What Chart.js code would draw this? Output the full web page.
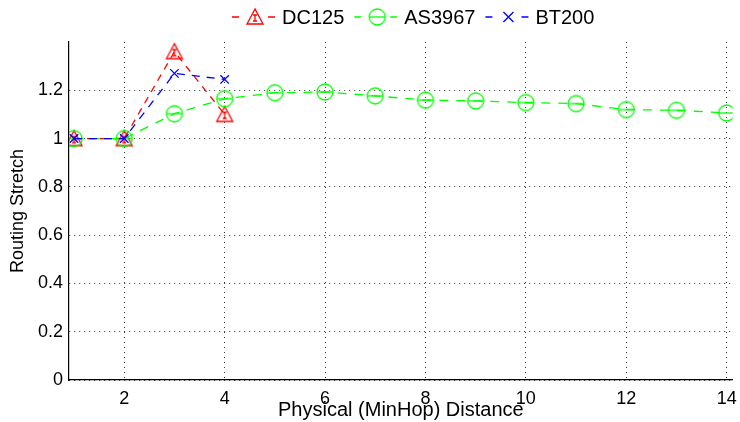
<!DOCTYPE html>
<html>
<head>
<meta charset="utf-8">
<script src="https://cdn.jsdelivr.net/npm/chart.js@4"></script>
<style>
  html, body { margin: 0; padding: 0; background: #fff; }
  #wrap { width: 740px; height: 422px; position: relative; }
</style>
</head>
<body>
<div id="wrap"><canvas id="stretch-chart"></canvas></div>
<script>
// data
const distances = [1, 2, 3, 4, 5, 6, 7, 8, 9, 10, 11, 12, 13, 14];
const dc125 = [1.0, 1.0, 1.36, 1.10];
const as3967 = [1.0, 1.0, 1.103, 1.165, 1.19, 1.193, 1.177, 1.159, 1.156, 1.149, 1.145, 1.12, 1.117, 1.106];
const bt200 = [1.0, 1.0, 1.27, 1.245];
const xTicks = [2, 4, 6, 8, 10, 12, 14];
const seriesNames = ["DC125", "AS3967", "BT200"];

const RED = "#ff0000", GREEN = "#00ff00", BLUE = "#0000ff";
const FONT = "'Liberation Sans', Arial, sans-serif";

// marker images (matlab style: triangle / circle with tiny error bars)
function triangleMarker() {
  const c = document.createElement("canvas");
  c.width = 20; c.height = 20;
  const g = c.getContext("2d");
  g.strokeStyle = RED; g.lineWidth = 1.3;
  g.beginPath();
  g.moveTo(10, 2); g.lineTo(2, 17); g.lineTo(18, 17); g.closePath();
  g.stroke();
  g.beginPath();
  g.moveTo(10, 8); g.lineTo(10, 14);
  g.moveTo(8, 8); g.lineTo(12, 8);
  g.moveTo(8, 14); g.lineTo(12, 14);
  g.stroke();
  return c;
}
function circleMarker() {
  const c = document.createElement("canvas");
  c.width = 20; c.height = 20;
  const g = c.getContext("2d");
  g.strokeStyle = GREEN; g.lineWidth = 1.3;
  g.beginPath();
  g.arc(10, 10, 8, 0, Math.PI * 2);
  g.stroke();
  g.beginPath();
  g.moveTo(2, 10); g.lineTo(18, 10);
  g.stroke();
  return c;
}
const triImg = triangleMarker();
const circImg = circleMarker();

function toPoints(ys) {
  return ys.map((y, i) => ({ x: distances[i], y: y }));
}

// legend drawn like the matlab one: dash, marker, dash, label
const matlabLegend = {
  id: "matlabLegend",
  afterDraw(chart) {
    const ctx = chart.ctx;
    const items = [
      { name: seriesNames[0], color: RED, img: triImg },
      { name: seriesNames[1], color: GREEN, img: circImg },
      { name: seriesNames[2], color: BLUE, img: null }
    ];
    ctx.save();
    ctx.font = "20px " + FONT;
    ctx.textBaseline = "middle";
    let x = 232;
    const y = 17;
    items.forEach(it => {
      ctx.strokeStyle = it.color;
      ctx.lineWidth = 1.3;
      ctx.beginPath();
      ctx.moveTo(x, y); ctx.lineTo(x + 7, y);
      const mx = x + 7 + 8 + 8;
      const x2 = mx + 8 + 5;
      ctx.moveTo(x2, y); ctx.lineTo(x2 + 7, y);
      ctx.stroke();
      if (it.img) {
        ctx.drawImage(it.img, mx - 10, y - 10);
      } else {
        ctx.beginPath();
        ctx.moveTo(mx - 5, y - 5); ctx.lineTo(mx + 5, y + 5);
        ctx.moveTo(mx + 5, y - 5); ctx.lineTo(mx - 5, y + 5);
        ctx.stroke();
      }
      ctx.fillStyle = "#000";
      const tx = x2 + 7 + 7;
      ctx.fillText(it.name, tx, y + 1);
      x = tx + ctx.measureText(it.name).width + 10;
    });
    ctx.restore();
  }
};

const ctx = document.getElementById("stretch-chart").getContext("2d");
new Chart(ctx, {
  type: "line",
  data: {
    datasets: [
      {
        label: seriesNames[0],
        data: toPoints(dc125),
        borderColor: RED,
        borderWidth: 1.3,
        borderDash: [7, 6],
        pointStyle: triImg,
        order: 2
      },
      {
        label: seriesNames[1],
        data: toPoints(as3967),
        borderColor: GREEN,
        borderWidth: 1.3,
        borderDash: [9, 8],
        pointStyle: circImg,
        order: 1
      },
      {
        label: seriesNames[2],
        data: toPoints(bt200),
        borderColor: BLUE,
        backgroundColor: BLUE,
        borderWidth: 1.3,
        borderDash: [8, 7],
        pointStyle: "crossRot",
        pointRadius: 6,
        pointBorderWidth: 1.3,
        order: 0
      }
    ]
  },
  options: {
    responsive: true,
    maintainAspectRatio: false,
    animation: false,
    layout: { padding: { top: 42, right: 7, left: 0, bottom: 0 } },
    plugins: {
      legend: { display: false },
      tooltip: { enabled: false }
    },
    elements: { line: { tension: 0, fill: false } },
    scales: {
      x: {
        type: "linear",
        min: 0.9,
        max: 14.12,
        afterBuildTicks(scale) {
          scale.ticks = xTicks.map(v => ({ value: v }));
        },
        afterFit(scale) {
          scale.height = 42;
          scale.paddingLeft = 0;
          scale.paddingRight = 0;
        },
        grid: { color: "#333", lineWidth: 1, drawTicks: false },
        border: { display: true, color: "#000", width: 1.2, dash: [1, 4] },
        ticks: {
          color: "#000",
          padding: 8,
          font: { family: FONT, size: 18 }
        },
        title: {
          display: true,
          text: "Physical (MinHop) Distance",
          color: "#000",
          padding: { top: 0, bottom: 0 },
          font: { family: FONT, size: 20 }
        }
      },
      y: {
        min: 0,
        max: 1.4,
        afterFit(scale) { scale.width = 69; },
        grid: {
          drawTicks: false,
          lineWidth: 1,
          color: c => (c.tick && Math.abs(c.tick.value - 1.4) < 1e-6) ? "rgba(0,0,0,0)" : "#333"
        },
        border: { display: true, color: "#000", width: 1.2, dash: [1, 4] },
        ticks: {
          stepSize: 0.2,
          color: "#000",
          padding: 6,
          font: { family: FONT, size: 18 },
          callback: v => Math.abs(v - 1.4) < 1e-6 ? "" : Math.round(v * 10) / 10
        },
        title: {
          display: true,
          text: "Routing Stretch",
          color: "#000",
          padding: { top: 7, bottom: 0 },
          font: { family: FONT, size: 18 }
        }
      }
    }
  },
  plugins: [matlabLegend]
});
</script>
</body>
</html>
